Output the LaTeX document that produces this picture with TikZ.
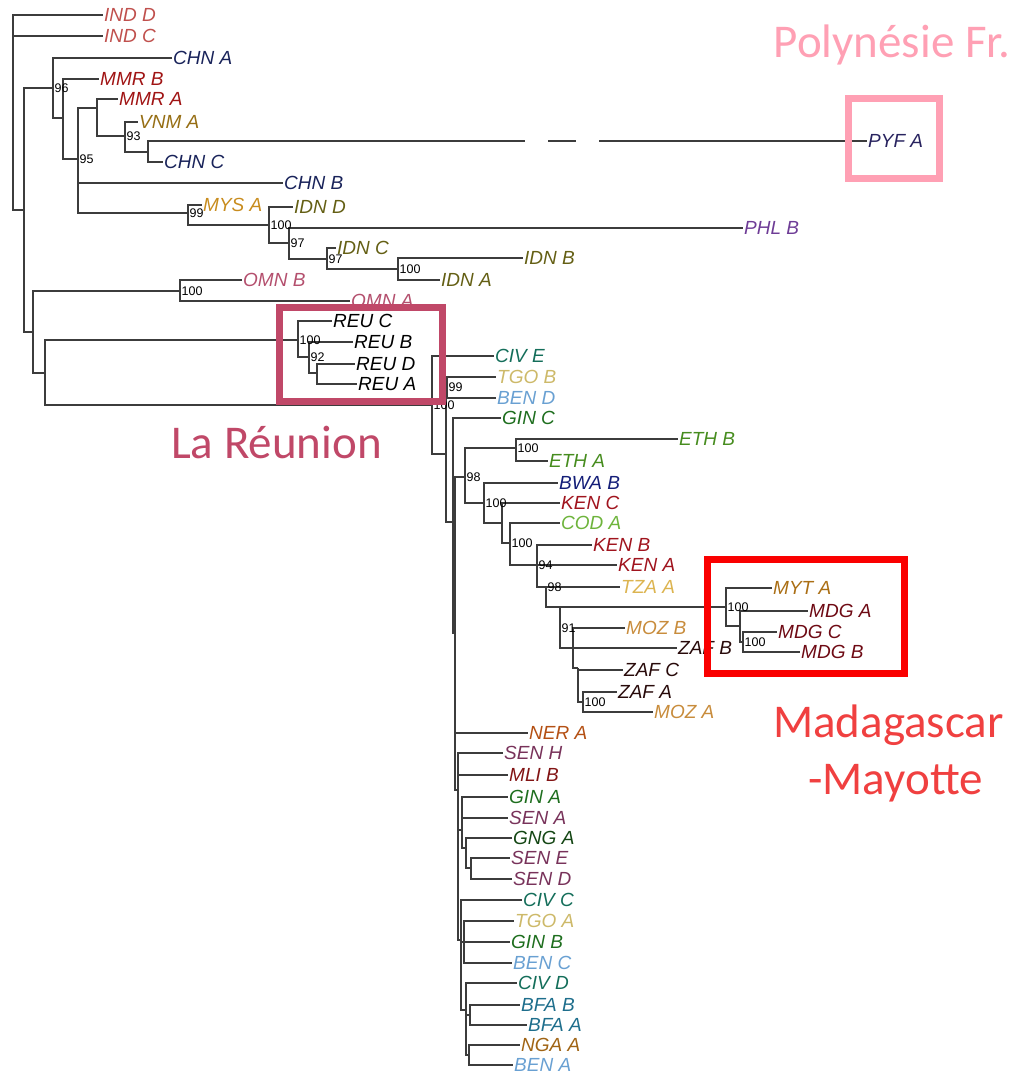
\documentclass[tikz,border=0pt]{standalone}
\usepackage{fontspec}
\setmainfont{Liberation Sans}
\newfontfamily\bigfont{Carlito}
\usetikzlibrary{positioning}
\definecolor{treegray}{RGB}{60,60,60}
\definecolor{cind}{RGB}{192,80,77}
\definecolor{cchn}{RGB}{25,35,90}
\definecolor{cmmr}{RGB}{160,20,20}
\definecolor{cvnm}{RGB}{150,110,20}
\definecolor{cpyf}{RGB}{40,35,95}
\definecolor{cmys}{RGB}{200,140,30}
\definecolor{cidn}{RGB}{100,95,20}
\definecolor{cphl}{RGB}{110,60,150}
\definecolor{comn}{RGB}{180,80,110}
\definecolor{cciv}{RGB}{20,110,90}
\definecolor{ctgo}{RGB}{205,185,105}
\definecolor{cben}{RGB}{105,160,210}
\definecolor{cgin}{RGB}{30,110,30}
\definecolor{ceth}{RGB}{70,140,30}
\definecolor{cbwa}{RGB}{20,30,120}
\definecolor{cken}{RGB}{160,20,30}
\definecolor{ccod}{RGB}{110,180,60}
\definecolor{ctza}{RGB}{220,180,80}
\definecolor{cmyt}{RGB}{170,110,20}
\definecolor{cmdg}{RGB}{110,10,20}
\definecolor{cmoz}{RGB}{200,140,60}
\definecolor{czaf}{RGB}{40,10,10}
\definecolor{cner}{RGB}{180,80,20}
\definecolor{csen}{RGB}{120,50,90}
\definecolor{cmli}{RGB}{130,20,20}
\definecolor{cgng}{RGB}{20,70,20}
\definecolor{cbfa}{RGB}{30,110,140}
\definecolor{cnga}{RGB}{160,100,20}
\definecolor{creu}{RGB}{192,72,104}
\definecolor{cpoly}{RGB}{255,160,180}
\definecolor{cmada}{RGB}{250,0,0}
\definecolor{cmadatext}{RGB}{240,64,64}
\begin{document}
\begin{tikzpicture}[x=1pt,y=-1pt,
  edge/.style={draw=treegray,line width=1.2pt},
  tip/.style={font=\fontsize{19}{22}\selectfont\itshape,inner sep=1pt},
  boot/.style={font=\fontsize{12.5}{14}\selectfont,inner sep=1.5pt,anchor=west},
  big/.style={font=\bigfont\fontsize{47}{58}\selectfont,inner sep=0pt,anchor=base},
  hlbox/.style={line width=7pt}]
\useasboundingbox (0,0) rectangle (1017,1074);
\foreach \n/\x/\y in {root/13/112,n24/24/210,n53/53/88,n63/63/118,n78/78/159,n97/97/108,n125/125/136,n148/148/152,
  n188/188/213,n269/269/225,n289/289/243,n327/327/259,n398/398/269,n33/33/332,n180/180/291,n45/45/373,
  n298/298/340,n309/309/357,n317/317/373,n432/432/405,n446/446/454,n446b/447/387,n453/453/522,n455/455/633,
  n465/465/477,n516/516/448,n484/484/503,n502/502/523,n510/510/543,n537/537/565,n546/546/587,n560/560/607,
  n560l/560/628,n573/573/648,n578/578/668,n583/583/702,n726/726/607,n740/740/626,n743/743/642,
  nb/458/790,nc/462/830,nd/466/848,ne/471/868,nf/461/940,ng/464/942,nh/466/1010,ni/470/1015,nj/469/1055,
  pyfcut/525/141,pyfa/548/141,pyfb/576/141,pyfc/599/141}
  {\coordinate (\n) at (\x,\y);}
\foreach \n/\x/\y/\c/\t in {INDD/103/15/cind/IND D,INDC/103/36/cind/IND C,CHNA/172/58/cchn/CHN A,
  MMRB/99/79/cmmr/MMR B,MMRA/118/99/cmmr/MMR A,VNMA/138/122/cvnm/VNM A,PYFA/867/141/cpyf/PYF A,
  CHNC/163/162/cchn/CHN C,CHNB/283/183/cchn/CHN B,MYSA/202/205/cmys/MYS A,IDND/293/207/cidn/IDN D,
  PHLB/743/228/cphl/PHL B,IDNC/336/248/cidn/IDN C,IDNB/523/258/cidn/IDN B,IDNA/440/280/cidn/IDN A,
  OMNB/242/280/comn/OMN B,OMNA/350/301/comn/OMN A,REUC/332/321/black/REU C,REUB/353/342/black/REU B,
  REUD/355/364/black/REU D,REUA/357/384/black/REU A,CIVE/494/356/cciv/CIV E,TGOB/496/377/ctgo/TGO B,
  BEND/496/398/cben/BEN D,GINC/501/418/cgin/GIN C,ETHB/678/439/ceth/ETH B,ETHA/548/461/ceth/ETH A,
  BWAB/558/483/cbwa/BWA B,KENC/560/503/cken/KEN C,CODA/560/523/ccod/COD A,KENB/592/545/cken/KEN B,
  KENA/617/565/cken/KEN A,TZAA/620/587/ctza/TZA A,MYTA/772/588/cmyt/MYT A,MDGA/808/611/cmdg/MDG A,
  MDGC/777/632/cmdg/MDG C,MDGB/800/652/cmdg/MDG B,MOZB/625/628/cmoz/MOZ B,ZAFB/677/648/czaf/ZAF B,
  ZAFC/623/670/czaf/ZAF C,ZAFA/617/692/czaf/ZAF A,MOZA/653/712/cmoz/MOZ A,NERA/528/733/cner/NER A,
  SENH/503/753/csen/SEN H,MLIB/508/775/cmli/MLI B,GINA/508/797/cgin/GIN A,SENA/508/818/csen/SEN A,
  GNGA/512/838/cgng/GNG A,SENE/510/858/csen/SEN E,SEND/512/879/csen/SEN D,CIVC/522/900/cciv/CIV C,
  TGOA/514/921/ctgo/TGO A,GINB/510/942/cgin/GIN B,BENC/512/963/cben/BEN C,CIVD/517/983/cciv/CIV D,
  BFAB/520/1005/cbfa/BFA B,BFAA/527/1025/cbfa/BFA A,NGAA/520/1045/cnga/NGA A,BENA/513/1065/cben/BEN A}
  {\coordinate (t\n) at (\x,\y);
   \node[tip,text=\c,right=0pt of t\n] (l\n) {\t};}
\foreach \p/\c in {root/tINDD,root/tINDC,root/n24,n24/n53,n24/n33,n53/tCHNA,n53/n63,n63/tMMRB,n63/n78,
  n78/n97,n78/tCHNB,n78/n188,n97/tMMRA,n97/n125,n125/tVNMA,n125/n148,n148/pyfcut,n148/tCHNC,
  n188/tMYSA,n188/n269,n269/tIDND,n269/n289,n289/tPHLB,n289/n327,n327/tIDNC,n327/n398,n398/tIDNB,n398/tIDNA,
  n33/n180,n33/n45,n180/tOMNB,n180/tOMNA,n45/n298,n45/n432,n298/tREUC,n298/n309,n309/tREUB,n309/n317,
  n317/tREUD,n317/tREUA,n432/tCIVE,n432/n446,n446/n446b,n446/n453,n446b/tTGOB,n446b/tBEND,
  n453/tGINC,n453/n455,n455/n465,n455/tNERA,n455/nb,n465/n516,n465/n484,n516/tETHB,n516/tETHA,
  n484/tBWAB,n484/n502,n502/tKENC,n502/n510,n510/tCODA,n510/n537,n537/tKENB,n537/tKENA,n537/n546,
  n546/tTZAA,n546/n560,n560/n726,n560/n573,n573/tMOZB,n573/tZAFB,n573/n578,n578/tZAFC,n578/n583,
  n583/tZAFA,n583/tMOZA,n726/tMYTA,n726/n740,n740/tMDGA,n740/n743,n743/tMDGC,n743/tMDGB,
  nb/tSENH,nb/tMLIB,nb/nc,nb/nf,nc/tGINA,nc/tSENA,nc/nd,nd/tGNGA,nd/ne,ne/tSENE,ne/tSEND,
  nf/tCIVC,nf/ng,nf/nh,ng/tTGOA,ng/tGINB,ng/tBENC,nh/tCIVD,nh/ni,nh/nj,ni/tBFAB,ni/tBFAA,nj/tNGAA,nj/tBENA}
  {\draw[edge] (\p) |- (\c);}
\draw[edge] (pyfa) -- (pyfb);
\draw[edge] (pyfc) -- (tPYFA);
\foreach \n/\v in {n53/96,n78/95,n125/93,n188/99,n269/100,n289/97,n327/97,n398/100,n180/100,n298/100,
  n309/92,n432/100,n446b/99,n465/98,n516/100,n484/100,n510/100,n537/94,n546/98,n560l/91,n583/100,
  n726/100,n743/100}
  {\node[boot] (b\n) at (\n) {\v};}
\draw[hlbox,draw=creu] (279.5,307.5) rectangle (442.5,401.5);
\draw[hlbox,draw=cpoly] (848.5,98) rectangle (939.5,178.5);
\draw[hlbox,draw=cmada] (707.5,559) rectangle (904,673);
\node[big,text=cpoly] (poly) at (892,57) {Polynésie Fr.};
\node[big,text=creu] (reun) at (276.5,458) {La Réunion};
\node[big,text=cmadatext] (mada) at (888.5,737) {Madagascar};
\node[big,text=cmadatext] (mayo) at (895.5,794) {-Mayotte};
\end{tikzpicture}
\end{document}
